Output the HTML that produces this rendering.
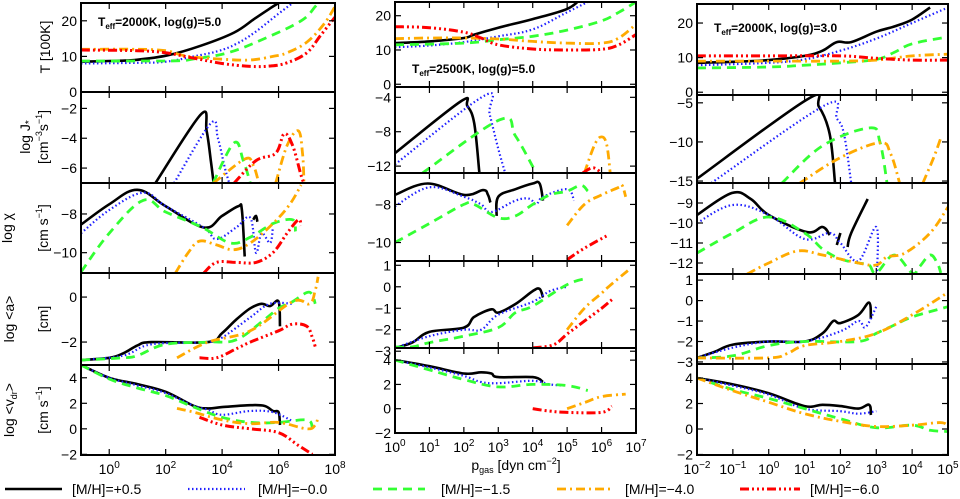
<!DOCTYPE html>
<html><head><meta charset="utf-8"><style>
html,body{margin:0;padding:0;background:#fff;}
svg{display:block;font-family:"Liberation Sans",sans-serif;}
</style></head><body>
<svg id="chart" width="960" height="499" viewBox="0 0 960 499" xmlns="http://www.w3.org/2000/svg"></svg>
<script>
// ---------- data (x = log10 p_gas, y = quantity) ----------
const seriesNames = ["[M/H]=+0.5","[M/H]=-0.0","[M/H]=-1.5","[M/H]=-4.0","[M/H]=-6.0"];
// Column 1: Teff=2000K log g=5.0
const c1T = [
 [[-1,8.5],[0,8.7],[0.9,9],[2.07,10.3],[3.25,13],[4.43,16.7],[5.15,20.6],[5.7,23.5],[6.0,25]],
 [[-1,8],[1,8.2],[2,8.5],[3,10],[3.86,11.5],[4.5,13.5],[5.15,16.7],[6,22],[6.5,25]],
 [[-1,8.7],[1,8.7],[2.5,8.8],[3,9.3],[4.2,11],[5.5,15],[6.8,20],[7.3,24],[7.4,25]],
 [[-1,12],[1,12],[2,11.6],[2.5,10.5],[3,9.8],[4,9.2],[5,9],[5.8,10],[6.3,11],[7,14],[7.6,19],[8,24]],
 [[-1,11.8],[1,11.6],[2,11],[3,9.5],[4,8],[5,7.2],[5.7,7.3],[6.3,8.2],[7,11],[7.5,16],[8,21]]];
const c1J = [
 [[1.64,-7],[3.25,-2.4],[3.45,-3.5],[3.6,-5.5],[3.7,-7]],
 [[2.3,-7],[3.6,-3],[3.85,-4],[4.1,-6],[4.25,-7]],
 [[3.68,-7],[4.43,-4.3],[4.75,-5.5],[5.0,-7]],
 [[3.7,-7],[4.8,-5.4],[5.1,-5.8],[5.3,-7],null,[5.9,-7],[6.3,-4.5],[6.7,-3.5],[6.85,-5],[6.9,-7]],
 [[4.43,-7],[5.2,-5.5],[5.9,-5],[6.2,-3.7],[6.5,-4.5],[6.8,-6.5],[6.9,-7]]];
const c1X = [
 [[-1,-8.55],[0,-7.5],[1,-6.75],[2,-7.6],[3.35,-8.7],[4,-8.1],[4.57,-7.6],[4.7,-7.8],[4.8,-10.2],null,[5.1,-8.3],[5.2,-8.1],[5.25,-8.4]],
 [[-1,-9],[0,-7.8],[1.2,-6.9],[2,-7.6],[3.35,-8.7],[3.8,-9.3],[4.5,-8.7],[5,-8.2],[5.2,-10],[5.4,-9],[5.7,-9.5],[5.8,-8.7]],
 [[-1,-11],[0,-9],[1.2,-7.3],[2,-7.9],[3.3,-8.7],[4.3,-9.5],[5,-9.2],[5.8,-8.5],[6.5,-8.3],[6.6,-8.9]],
 [[2.35,-11.05],[2.8,-10],[3.2,-9.4],[3.8,-9.6],[4.4,-9.85],[5,-9.5],[5.8,-8.5],[6.4,-7.5],[6.8,-6.5]],
 [[3.35,-11.05],[3.8,-10.5],[4.5,-10.5],[5.2,-10.5],[5.8,-10],[6.3,-9],[6.7,-8.3],[6.8,-8.6]]];
const c1A = [
 [[-1,-2.8],[0,-2.7],[0.5,-2.5],[1,-2.15],[1.5,-2.0],[3.5,-2.0],[4,-1.6],[4.5,-1.0],[5,-0.5],[5.4,-0.3],[5.7,-0.4],[6,-0.2],[6.05,-1.3]],
 [[-1,-2.8],[0.5,-2.6],[1.5,-2.1],[3.5,-2.0],[4,-1.8],[5,-0.9],[5.7,-0.3],[6.5,-0.3]],
 [[-1,-2.8],[0.5,-2.7],[1,-2.6],[2,-2.1],[3.5,-2.0],[4.5,-1.9],[5.5,-1.0],[6,-0.5],[6.5,-0.2],[7,0.2],[7.2,0.1],[7.3,-0.3]],
 [[2.4,-2.7],[3.5,-2.0],[5,-1.5],[6.5,-0.2],[7.1,-0.3],[7.3,0.3],[7.4,0.9]],
 [[3.2,-2.7],[3.8,-2.7],[4.5,-2.3],[5,-2.0],[6,-1.5],[6.5,-1.2],[7,-1.3],[7.2,-1.8],[7.3,-2.2]]];
const c1V = [
 [[-1,5],[0,4],[1,3.5],[2,2.9],[3,1.8],[3.5,1.6],[4,1.7],[5,1.85],[5.5,1.8],[5.8,1.4],[6,1.3],[6.05,0.3]],
 [[-1,5],[0,4],[1,3.4],[2,2.8],[3,1.8],[3.5,1.5],[4,1.1],[5,1.4],[5.8,1.3],[6.5,0.6]],
 [[-1,5],[0,3.9],[1,3.2],[2,2.6],[3,1.7],[4,0.9],[5,0.5],[6,0.5],[7,0.7],[7.2,0.1]],
 [[2.4,1.6],[3,1.3],[4,0.7],[5,0.4],[6,0.5],[7,0],[7.3,0.3],[7.4,1.0]],
 [[3.2,0.9],[4,0.3],[5,0],[6,-0.3],[6.7,-1.3],[7.2,-2.0]]];
// Column 2: Teff=2500K log g=5.0
const c2T = [
 [[0,12],[1,12.5],[2,13.5],[2.3,14.5],[3,16.5],[4,19],[5,22],[5.4,25]],
 [[0,10.8],[1,11.3],[2,12.3],[3,14],[4,16],[5,21],[5.8,25]],
 [[0,11.5],[2,12],[3,13],[4,14],[5,15.8],[6,18.5],[6.5,21],[7,24]],
 [[0,13.3],[1,13.5],[2,13.5],[3,13.2],[4,12.5],[5,12],[6,12],[6.5,13.5],[7,17.5]],
 [[0,16.8],[1,16.5],[2,15.2],[2.5,13.5],[3,11.5],[4,10.3],[5,10],[6,10.2],[6.5,11.5],[7,14.5]]];
const c2J = [
 [[0,-10.5],[1.9,-4.5],[2.1,-5],[2.3,-7],[2.45,-12.8]],
 [[0,-11.8],[2.6,-3.8],[2.75,-6],[3.0,-10],[3.2,-12.8]],
 [[0.8,-12.8],[3.05,-6.6],[3.5,-8.5],[4.1,-12.8]],
 [[5.5,-12.8],[5.8,-9.5],[6.0,-8.6],[6.15,-9.5],[6.25,-12.8]],
 [[5.45,-12.8],[5.75,-12.2],[6.0,-12.8]]];
const c2X = [
 [[0,-7.5],[0.95,-6.9],[2.0,-7.5],[2.56,-7.25],[2.7,-7.5],[2.77,-7.9],null,[2.95,-8.6],[3.0,-7.6],[3.5,-7.2],[4,-6.9],[4.2,-6.9],[4.3,-7.8]],
 [[0,-8.1],[1,-7.1],[2,-7.6],[2.5,-8.0],[2.8,-8.4],[3.5,-7.8],[3.9,-7.7],[4.1,-8.0],[4.3,-7.6],[5,-7.2],[5.2,-7.8]],
 [[0,-10],[1,-9.0],[2,-8.0],[2.3,-8.0],[3,-8.7],[3.5,-8.6],[4,-8.0],[4.5,-7.5],[5,-7.3],[5.4,-7.0],[5.6,-7.3]],
 [[5.0,-9.1],[5.5,-8.0],[6,-7.5],[6.5,-7.1],[6.6,-7.0],[6.7,-7.6]],
 [[5.0,-10.9],[5.5,-10.3],[6.2,-9.6]]];
const c2A = [
 [[0,-2.85],[0.5,-2.6],[1,-2.1],[2,-1.9],[2.3,-1.4],[2.8,-1.05],[3,-1.2],[3.5,-0.8],[4,-0.2],[4.2,-0.1],[4.3,-0.5]],
 [[0,-2.85],[1,-2.3],[2,-2.0],[2.5,-2.0],[3,-1.3],[4,-0.7],[4.5,-0.2],[5,0.0]],
 [[0,-2.8],[0.5,-2.8],[1,-2.6],[2,-2.3],[3,-1.9],[3.5,-1.2],[4,-0.9],[5,0.1],[5.6,0.4]],
 [[5.0,-2.0],[5.5,-1.0],[6.0,-0.3],[6.2,0],[6.8,0.8]],
 [[4.0,-2.85],[4.6,-2.7],[5.0,-2.2],[5.5,-1.6],[6,-1.0],[6.3,-0.6]]];
const c2V = [
 [[0,4.0],[1,3.5],[2,2.9],[2.5,3.0],[2.8,2.9],[3,2.6],[4,2.6],[4.3,2.2]],
 [[0,4.0],[1,3.4],[2,2.7],[2.5,2.2],[3,2.1],[4,2.3],[4.5,2.0],[4.9,1.9]],
 [[0,4.0],[1,3.2],[2,2.4],[3,1.8],[4,2.0],[5,1.9],[5.6,1.5]],
 [[5.0,0.0],[5.5,0.5],[6.0,1.0],[6.7,1.2]],
 [[4.0,0],[4.5,-0.2],[5,-0.3],[6.0,-0.3],[6.3,0.2]]];
// Column 3: Teff=2000K log g=3.0
const c3T = [
 [[-2,8.5],[-1,8.8],[0,9.3],[1,10.5],[1.5,12],[1.9,14.5],[2.3,14.5],[3,17.5],[3.5,19],[4,21],[4.5,24.5]],
 [[-2,7.8],[0,8.5],[1,9.5],[2,12],[3,15.5],[4,20],[5,24.5]],
 [[-2,7],[0,7.3],[1,7.8],[2,8.5],[3,9.5],[3.5,11.5],[4,14],[5,16]],
 [[-2,9],[0,9],[2,9],[3,9.3],[4,10.5],[5,11]],
 [[-2,10.5],[0,10.5],[2,10.5],[3,9.8],[4,9.3],[5,9.3]]];
const c3J = [
 [[-2,-14.7],[1.06,-4.6],[1.4,-5.5],[1.7,-9],[1.85,-15.25]],
 [[-1.6,-15.25],[1.57,-5.3],[1.9,-7],[2.1,-9],[2.3,-15.25]],
 [[0.37,-15.25],[1.5,-10.5],[2.82,-8.2],[3.1,-10],[3.3,-15.25]],
 [[0.87,-15.25],[2,-12],[3.1,-10.1],[3.4,-11.5],[3.65,-15.25],null,[4.3,-15.25],[4.6,-12],[4.8,-9.5]],
 []];
const c3X = [
 [[-2,-9.6],[-1.03,-8.5],[-0.5,-8.8],[0,-9.6],[1.06,-10.45],[1.5,-10.2],[1.7,-10.6],null,[1.9,-11.1],[2.0,-10.5],null,[2.2,-11.2],[2.3,-10.5],[2.76,-8.8]],
 [[-2,-10.0],[-1,-9.1],[0,-9.6],[1,-10.8],[1.7,-10.5],[2,-11],[2.5,-11.9],[3,-10.2],[3.02,-12.55]],
 [[-2,-11.5],[-1,-10.5],[0,-9.7],[1,-10.5],[1.5,-11.3],[2,-11.8],[2.5,-12],[2.8,-12.1],[3,-12.5],[3.5,-11.6],[4,-12.5],[4.2,-12.2],[4.5,-11.6],[4.7,-12.0],[4.8,-12.5]],
 [[-0.6,-12.55],[0,-12],[0.8,-11.4],[1.5,-11.6],[2.5,-12.0],[3,-12.1],[3.3,-11.7],[3.8,-11.5],[4.5,-10.5],[5,-9.2]],
 []];
const c3A = [
 [[-2,-2.8],[-1.5,-2.5],[-1,-2.15],[0,-2.0],[1,-2.0],[1.5,-1.6],[1.8,-1.0],[2,-1.1],[2.5,-0.7],[2.8,-0.1],[2.85,-0.9]],
 [[-2,-2.8],[-1,-2.3],[0,-2.0],[1,-2.0],[2,-1.5],[2.5,-1.0],[2.7,-1.3],[3,-0.3]],
 [[-2,-2.8],[-1,-2.7],[0,-2.2],[1,-2.0],[2.5,-2.0],[3,-1.6],[3.5,-1.2],[4,-0.8],[5,-0.3]],
 [[-2,-2.8],[0,-2.8],[0.5,-2.6],[1,-2.2],[2,-2.0],[3,-1.6],[4,-0.7],[5,0.4]],
 []];
const c3V = [
 [[-2,4.0],[-1,3.5],[0,2.8],[1,1.8],[1.5,1.9],[2,1.8],[2.5,1.6],[2.8,1.9],[2.85,1.1]],
 [[-2,4.0],[-1,3.4],[0,2.7],[1,1.6],[2,1.4],[2.5,1.2],[3,1.4]],
 [[-2,4.0],[-1,3.1],[0,2.4],[1,1.6],[2,0.8],[3,0.1],[4,0.3],[4.5,-0.1],[5,-0.2]],
 [[-2,4.0],[-1,3.0],[0,2.1],[1,1.2],[2,0.6],[3,0.2],[4,0.3],[4.8,0.5],[5,0.2]],
 []];
const xTicks1 = [0,2,4,6,8];
const xTicks2 = [0,1,2,3,4,5,6,7];
const xTicks3 = [-2,-1,0,1,2,3,4,5];
const yTicks = {
 T:[0,10,20], J1:[-6,-4,-2], J2:[-12,-8,-4], J3:[-15,-10,-5],
 X1:[-10,-8], X2:[-10,-8], X3:[-12,-11,-10,-9], A1:[-2,0], A2:[-3,-2,-1,0,1], A3:[-3,-2,-1,0,1], V:[-2,0,2,4]};

// ---------- layout ----------
const styles = [
 {c:"#000",w:2.6,d:""},
 {c:"#2020ff",w:2.2,d:"1.5 2.5"},
 {c:"#33ff33",w:2.8,d:"9 6"},
 {c:"#ffaa00",w:2.8,d:"9 4 2 4"},
 {c:"#ff0000",w:3,d:"9 3 2 3 2 3 2 3"}];
const cols = [
 {x0:81,x1:335,lx0:-1,lx1:8,ys:[3,92,183,273,365,455],ticks:xTicks1,
  rows:[[c1T,[0,25],yTicks.T],[c1J,[-7,-0.9],yTicks.J1],[c1X,[-11.05,-6.4],yTicks.X1],[c1A,[-3.02,1.07],yTicks.A1],[c1V,[-2.05,5.0],yTicks.V]]},
 {x0:395,x1:636,lx0:0,lx1:7,ys:[2,87,173,261,348,433],ticks:xTicks2,
  rows:[[c2T,[-0.8,24],yTicks.T],[c2J,[-12.8,-2.8],yTicks.J2],[c2X,[-10.97,-6.35],yTicks.X2],[c2A,[-2.85,1.2],yTicks.A2],[c2V,[-2.0,5.0],yTicks.V]]},
 {x0:697,x1:948,lx0:-2,lx1:5,ys:[4,95,183,274,364,455],ticks:xTicks3,
  rows:[[c3T,[-0.8,25.5],yTicks.T],[c3J,[-15.25,-4.0],yTicks.J3],[c3X,[-12.55,-8.0],yTicks.X3],[c3A,[-3.1,1.3],yTicks.A3],[c3V,[-2.04,5.1],yTicks.V]]}];

const svg = document.getElementById('chart');
const NS = "http://www.w3.org/2000/svg";
function mk(tag, attrs, parent){const e=document.createElementNS(NS,tag);for(const k in attrs)e.setAttribute(k,attrs[k]);(parent||svg).appendChild(e);return e;}
function fmtTick(v){return v<0?"\u2212"+Math.abs(v):""+v;}
function smoothPath(seg){
  if(seg.length<3){return seg.map((p,i)=>(i?"L":"M")+p[0].toFixed(1)+","+p[1].toFixed(1)).join("");}
  let d="M"+seg[0][0].toFixed(1)+","+seg[0][1].toFixed(1);
  const t=0.18;
  for(let i=0;i<seg.length-1;i++){
    const p0=seg[Math.max(0,i-1)],p1=seg[i],p2=seg[i+1],p3=seg[Math.min(seg.length-1,i+2)];
    const c1=[p1[0]+(p2[0]-p0[0])*t,p1[1]+(p2[1]-p0[1])*t];
    const c2=[p2[0]-(p3[0]-p1[0])*t,p2[1]-(p3[1]-p1[1])*t];
    d+="C"+c1[0].toFixed(1)+","+c1[1].toFixed(1)+" "+c2[0].toFixed(1)+","+c2[1].toFixed(1)+" "+p2[0].toFixed(1)+","+p2[1].toFixed(1);
  }
  return d;
}

cols.forEach((col,ci)=>{
  const xs = lx => col.x0 + (lx-col.lx0)/(col.lx1-col.lx0)*(col.x1-col.x0);
  col.rows.forEach((row,ri)=>{
    const [data,range,ticks]=row;
    const top=col.ys[ri], bot=col.ys[ri+1];
    const ysc = v => bot - (v-range[0])/(range[1]-range[0])*(bot-top);
    const g = mk('g',{});
    
    
    const cid='clip'+ci+'_'+ri;
    const cp=mk('clipPath',{id:cid},g); mk('rect',{x:col.x0,y:top,width:col.x1-col.x0,height:bot-top},cp);
    data.forEach((pts,si)=>{
      if(!pts.length) return;
      const segs=[[]];
      pts.forEach(p=>{ if(p===null){segs.push([]);return;} segs[segs.length-1].push([xs(p[0]),ysc(p[1])]); });
      const d=segs.filter(s=>s.length).map(smoothPath).join("");
      const s=styles[si];
      const path=mk('path',{d:d,fill:"none",stroke:s.c,"stroke-width":s.w,"stroke-dasharray":s.d,"stroke-linejoin":"round","clip-path":"url(#"+cid+")"},g);
      
      
    });
    ticks.forEach(t=>{
      const y=ysc(t);
      mk('line',{x1:col.x0,x2:col.x0+6,y1:y,y2:y,stroke:"#000","stroke-width":1.2},g);
      mk('line',{x1:col.x1-6,x2:col.x1,y1:y,y2:y,stroke:"#000","stroke-width":1.2},g);
      const tx=mk('text',{x:col.x0-4,y:y+5,"text-anchor":"end","font-size":14,fill:"#000"},g);
      tx.textContent=fmtTick(t);
      
      
    });
    col.ticks.forEach(t=>{
      const x=xs(t);
      mk('line',{x1:x,x2:x,y1:bot,y2:bot-6,stroke:"#000","stroke-width":1.2},g);
      mk('line',{x1:x,x2:x,y1:top,y2:top+6,stroke:"#000","stroke-width":1.2},g);
    });
    mk('rect',{x:col.x0,y:top,width:col.x1-col.x0,height:bot-top,fill:"none",stroke:"#000","stroke-width":2},g);
  });
  const yb=col.ys[5];
  col.ticks.forEach(t=>{
    const tx=mk('text',{x:xs(t),y:yb+19,"text-anchor":"middle","font-size":14,fill:"#000"});
    
    
    tx.appendChild(document.createTextNode("10"));
    const sp=mk('tspan',{dy:-6,"font-size":10},tx); sp.textContent=fmtTick(t);
  });
});
</script>
<svg x="0" y="0" width="960" height="499" style="position:absolute;left:0;top:0">
 <g font-family="Liberation Sans, sans-serif" fill="#000">
  <text x="98" y="26" font-size="12" font-weight="bold">T<tspan font-size="8" dy="3">eff</tspan><tspan dy="-3">=2000K, log(g)=5.0</tspan></text>
  <text x="412" y="73" font-size="12" font-weight="bold">T<tspan font-size="8" dy="3">eff</tspan><tspan dy="-3">=2500K, log(g)=5.0</tspan></text>
  <text x="714" y="32" font-size="12" font-weight="bold">T<tspan font-size="8" dy="3">eff</tspan><tspan dy="-3">=2000K, log(g)=3.0</tspan></text>
  <text transform="translate(50,47) rotate(-90)" text-anchor="middle" font-size="14">T [100K]</text>
  <text transform="translate(30,137) rotate(-90)" text-anchor="middle" font-size="14">log J<tspan font-size="10" dy="2">*</tspan></text>
  <text transform="translate(48,137) rotate(-90)" text-anchor="middle" font-size="14">[cm<tspan font-size="9" dy="-6">−3</tspan><tspan dy="6">s</tspan><tspan font-size="9" dy="-6">−1</tspan><tspan dy="6">]</tspan></text>
  <text transform="translate(12,228) rotate(-90)" text-anchor="middle" font-size="14">log χ</text>
  <text transform="translate(48,228) rotate(-90)" text-anchor="middle" font-size="14">[cm s<tspan font-size="9" dy="-6">−1</tspan><tspan dy="6">]</tspan></text>
  <text transform="translate(14,319) rotate(-90)" text-anchor="middle" font-size="14">log &lt;a&gt;</text>
  <text transform="translate(48,319) rotate(-90)" text-anchor="middle" font-size="14">[cm]</text>
  <text transform="translate(14,410) rotate(-90)" text-anchor="middle" font-size="14">log &lt;v<tspan font-size="9" dy="3">dr</tspan><tspan dy="-3">&gt;</tspan></text>
  <text transform="translate(48,410) rotate(-90)" text-anchor="middle" font-size="14">[cm s<tspan font-size="9" dy="-6">−1</tspan><tspan dy="6">]</tspan></text>
  <text x="516" y="470" text-anchor="middle" font-size="14">p<tspan font-size="9" dy="3">gas</tspan><tspan dy="-3"> [dyn cm</tspan><tspan font-size="9" dy="-6">−2</tspan><tspan dy="6">]</tspan></text>
 </g>
 <g font-family="Liberation Sans, sans-serif" font-size="14" fill="#000">
  <line x1="5" y1="489" x2="62" y2="489" stroke="#000" stroke-width="2.6"/>
  <text x="72" y="494">[M/H]=+0.5</text>
  <line x1="188" y1="489" x2="245" y2="489" stroke="#2020ff" stroke-width="2.2" stroke-dasharray="1.5 2.5"/>
  <text x="258" y="494">[M/H]=−0.0</text>
  <line x1="373" y1="489" x2="425" y2="489" stroke="#33ff33" stroke-width="2.8" stroke-dasharray="9 6"/>
  <text x="441" y="494">[M/H]=−1.5</text>
  <line x1="557" y1="489" x2="614" y2="489" stroke="#ffaa00" stroke-width="2.8" stroke-dasharray="9 4 2 4"/>
  <text x="625" y="494">[M/H]=−4.0</text>
  <line x1="740" y1="489" x2="800" y2="489" stroke="#ff0000" stroke-width="3" stroke-dasharray="9 3 2 3 2 3 2 3"/>
  <text x="810" y="494">[M/H]=−6.0</text>
 </g>
</svg>
</body></html>
